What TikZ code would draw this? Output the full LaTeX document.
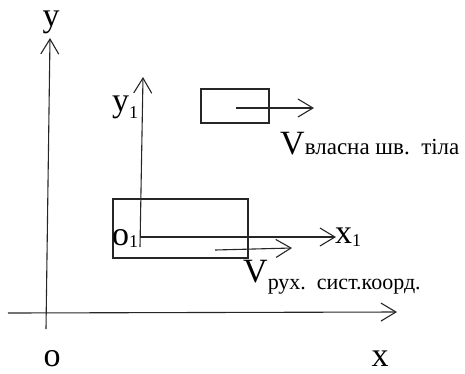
\documentclass[tikz,border=0pt]{standalone}
\usepackage{fontspec}
\setmainfont{Liberation Serif}
\usetikzlibrary{arrows.meta}
\newcommand{\lowsub}[3]{{\fontsize{#1}{#1}\selectfont\raisebox{-#2pt}{#3}}}
\begin{document}
\begin{tikzpicture}[x=1pt,y=-1pt,
  ax/.style={draw=black!85, line width=1.1pt, -{Straight Barb[length=15pt,width=18pt,line width=1.1pt]}},
  lbl/.style={inner sep=0pt, anchor=base west, font=\fontsize{34}{40}\selectfont},
  box/.style={draw=black!85, line width=1.1pt, inner sep=0pt, fill=none}]
\useasboundingbox (0,0) rectangle (465,373);
% coordinates
\coordinate (Ybot) at (46,329);
\coordinate (Ytop) at (50,38);
\coordinate (Xl) at (8,313);
\coordinate (Xr) at (397,312);
\coordinate (y1b) at (140,247);
\coordinate (y1t) at (143,77);
\coordinate (x1l) at (140,237);
\coordinate (x1r) at (336,237);
\coordinate (vrl) at (215,250);
\coordinate (vrr) at (292,248);
\coordinate (vwl) at (236,108);
\coordinate (vwr) at (314,108);
% boxes
\node[box, minimum width=135pt, minimum height=59pt] (body1) at (180.5,228.5) {};
\node[box, minimum width=68pt, minimum height=34pt] (body2) at (235,106) {};
% axes
\draw[ax] (Ybot) -- (Ytop);
\draw[ax] (Xl) -- (Xr);
\draw[ax] (y1b) -- (y1t);
\draw[ax] (x1l) -- (x1r);
\draw[ax] (vrl) -- (vrr);
\draw[ax] (vwl) -- (vwr);
% labels
\node[lbl, anchor=base] (ly) at (51,26) {y};
\node[lbl, anchor=base] (lo) at (52,366) {o};
\node[lbl, anchor=base] (lx) at (380,366) {x};
\node[lbl] (ly1) at (112,111) {y\lowsub{18}{7}{1}};
\node[lbl] (lo1) at (112,245) {o\lowsub{18}{2}{1}};
\node[lbl] (lx1) at (335,243) {x\lowsub{18}{3}{1}};
\node[lbl] (lvr) at (243,282) {V\lowsub{22}{7}{рух.\ \ сист.коорд.}};
\node[lbl] (lvw) at (280,154) {V\lowsub{23}{0}{власна шв.\ \ тіла}};
\end{tikzpicture}
\end{document}
